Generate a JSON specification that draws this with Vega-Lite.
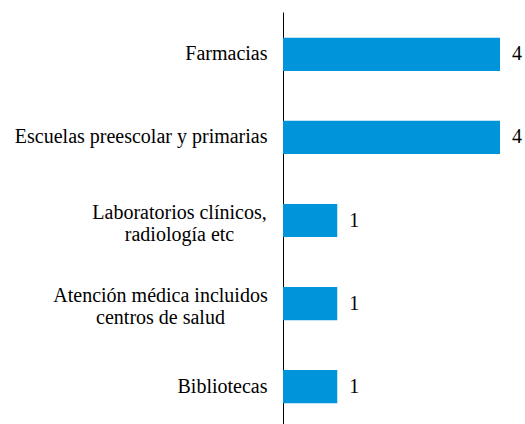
{
  "$schema": "https://vega.github.io/schema/vega-lite/v6.json",
  "autosize": "none",
  "width": 217,
  "height": 417,
  "padding": {"left": 283, "top": 12, "right": 25, "bottom": 0},
  "background": "white",
  "config": {"view": {"stroke": null}, "font": "Liberation Serif"},
  "data": {"values": [
    {"category": "Farmacias", "value": 4},
    {"category": "Escuelas preescolar y primarias", "value": 4},
    {"category": "Laboratorios clínicos, radiología etc", "value": 1},
    {"category": "Atención médica incluidos centros de salud", "value": 1},
    {"category": "Bibliotecas", "value": 1}
  ]},
  "encoding": {
    "y": {
      "field": "category", "type": "nominal", "sort": null,
      "scale": {"paddingInner": 0.6, "paddingOuter": 0.31},
      "axis": {
        "title": null, "ticks": false, "labelFont": "Liberation Serif", "labelFontSize": 20,
        "labelColor": "#000000", "domainColor": "#000000", "domainWidth": 1,
        "labelLimit": 400, "labelLineHeight": 22,
        "labelAlign": {"condition": {"test": "length(datum.label) > 35", "value": "center"}, "value": "right"},
        "labelOffset": {"condition": {"test": "length(datum.label) > 35", "value": -8}, "value": 0},
        "labelPadding": {"condition": [
          {"test": "length(datum.label) > 40", "value": 123},
          {"test": "length(datum.label) > 35", "value": 104}
        ], "value": 16},
        "labelExpr": "datum.label == 'Laboratorios clínicos, radiología etc' ? ['Laboratorios clínicos,', 'radiología etc'] : datum.label == 'Atención médica incluidos centros de salud' ? ['Atención médica incluidos', 'centros de salud'] : datum.label"
      }
    },
    "x": {"field": "value", "type": "quantitative", "scale": {"domain": [0, 4]}, "axis": null}
  },
  "layer": [
    {"mark": {"type": "bar", "color": "#0095DA"}},
    {"mark": {"type": "text", "align": "left", "dx": 12, "font": "Liberation Serif", "fontSize": 20, "color": "#000000"},
     "encoding": {"text": {"field": "value"}}}
  ]
}
